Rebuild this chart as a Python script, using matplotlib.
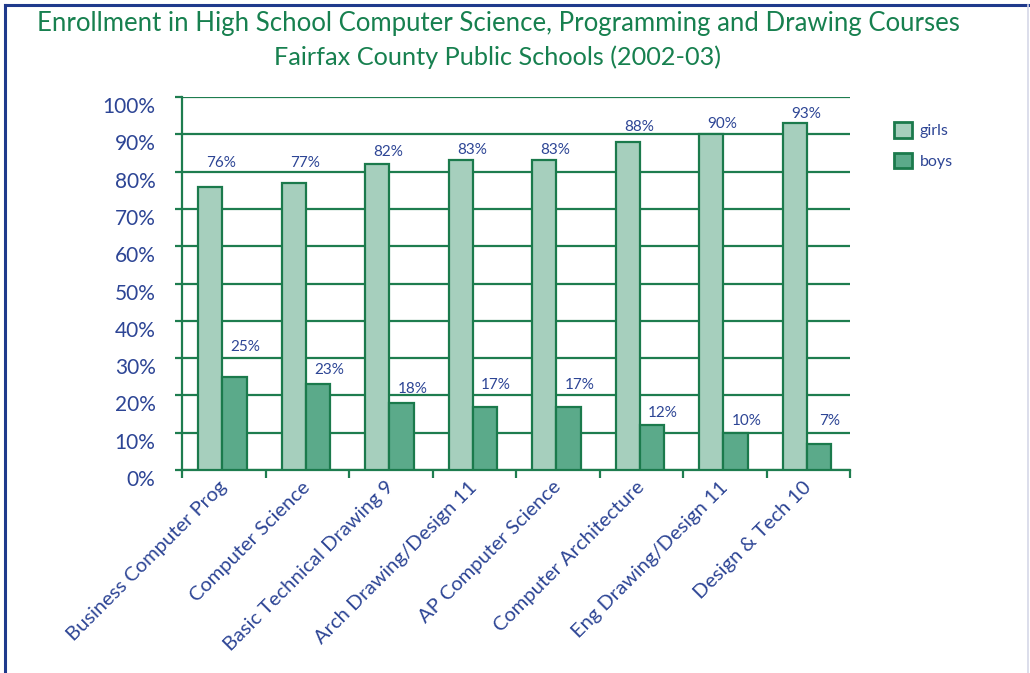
import matplotlib
matplotlib.use("Agg")
import matplotlib.pyplot as plt
from matplotlib.lines import Line2D
from matplotlib.patches import Patch
from matplotlib.transforms import ScaledTranslation
import numpy as np

courses = [
    "Business Computer Prog",
    "Computer Science",
    "Basic Technical Drawing 9",
    "Arch Drawing/Design 11",
    "AP Computer Science",
    "Computer Architecture",
    "Eng Drawing/Design 11",
    "Design & Tech 10",
]
girls = [76, 77, 82, 83, 83, 88, 90, 93]
boys = [25, 23, 18, 17, 17, 12, 10, 7]
y_ticks = [0, 10, 20, 30, 40, 50, 60, 70, 80, 90, 100]

# label lift above each bar (percentage points), keeps text between grid lines
girls_lift = [6.3, 5.3, 3.3, 2.8, 2.8, 4.0, 2.8, 2.4]
boys_lift = [8.0, 3.8, 3.7, 5.8, 5.8, 3.3, 3.1, 6.1]

GRID = "#1e7d4f"
EDGE = "#1b7a4c"
GIRLS_FILL = "#a6cfbd"
BOYS_FILL = "#5baa8a"
TEXT_BLUE = "#2d4595"
TITLE_GREEN = "#17804f"

plt.rcParams["font.family"] = ["Lato", "DejaVu Sans"]

W, H = 1030, 673
fig = plt.figure(figsize=(W / 100, H / 100), dpi=100)
ax = fig.add_axes([182 / W, 1 - 470 / H, (850 - 182) / W, (470 - 97) / H])

x = np.arange(len(courses))
bw = 0.29
xg = x - 0.16
xb = x + 0.13

ax.set_xlim(-0.5, len(courses) - 0.5)
ax.set_ylim(0, 100)

# horizontal grid
for v in y_ticks:
    ax.axhline(v, color=GRID, lw=1.6, zorder=1)

ax.bar(xg, girls, width=bw, color=GIRLS_FILL, edgecolor=EDGE, linewidth=1.6, zorder=3)
ax.bar(xb, boys, width=bw, color=BOYS_FILL, edgecolor=EDGE, linewidth=1.6, zorder=3)

for xi, v, d in zip(xg, girls, girls_lift):
    ax.text(xi + 0.13, v + d, f"{v}%", ha="center", va="center",
            fontsize=11, color=TEXT_BLUE, zorder=4)
for xi, v, d in zip(xb, boys, boys_lift):
    ax.text(xi + 0.13, v + d, f"{v}%", ha="center", va="center",
            fontsize=11, color=TEXT_BLUE, zorder=4)

for s in ("top", "right"):
    ax.spines[s].set_visible(False)
ax.spines["left"].set_color(GRID)
ax.spines["left"].set_linewidth(1.6)
ax.spines["bottom"].set_color(GRID)
ax.spines["bottom"].set_linewidth(1.6)
ax.spines["left"].set_zorder(2)

ax.set_yticks(y_ticks)
ax.set_yticklabels([f"{v}%" for v in y_ticks])
ax.tick_params(axis="y", length=5, width=1.6, color=GRID, pad=14,
               labelsize=15, labelcolor=TEXT_BLUE)
for lab in ax.get_yticklabels():
    lab.set_transform(lab.get_transform() +
                      ScaledTranslation(0, -8 / 100, fig.dpi_scale_trans))

ax.set_xticks(x)
ax.set_xticklabels(courses, rotation=45, ha="right", rotation_mode="anchor")
ax.tick_params(axis="x", which="major", length=0, pad=6,
               labelsize=14.5, labelcolor=TEXT_BLUE)
for lab in ax.get_xticklabels():
    lab.set_transform(lab.get_transform() +
                      ScaledTranslation(-6 / 100, 0, fig.dpi_scale_trans))
ax.set_xticks(np.arange(-0.5, len(courses)), minor=True)
ax.tick_params(axis="x", which="minor", length=6, width=1.6, color=GRID)

leg = ax.legend(
    handles=[Patch(facecolor=GIRLS_FILL, edgecolor=EDGE, linewidth=2.0, label="girls"),
             Patch(facecolor=BOYS_FILL, edgecolor=EDGE, linewidth=2.0, label="boys")],
    loc="upper left", bbox_to_anchor=(880 / W, 1 - 108 / H),
    bbox_transform=fig.transFigure, frameon=False,
    handlelength=1.1, handleheight=1.1, handletextpad=0.5,
    labelspacing=0.9, fontsize=11.5,
)
for t in leg.get_texts():
    t.set_color(TEXT_BLUE)

fig.text(498 / W, 1 - 24 / H,
         "Enrollment in High School Computer Science, Programming and Drawing Courses",
         ha="center", va="center", fontsize=18.5, color=TITLE_GREEN)
fig.text(498 / W, 1 - 57 / H, "Fairfax County Public Schools (2002-03)",
         ha="center", va="center", fontsize=18.2, color=TITLE_GREEN)

# page frame
fig.add_artist(Line2D([5 / W, 5 / W], [0, 1 - 5 / H], transform=fig.transFigure,
                      color="#1f3a8c", lw=2.2))
fig.add_artist(Line2D([5 / W, 1], [1 - 5 / H, 1 - 5 / H], transform=fig.transFigure,
                      color="#1f3a8c", lw=2.2))
fig.add_artist(Line2D([1028 / W, 1028 / W], [0, 1 - 5 / H], transform=fig.transFigure,
                      color="#d6d8e8", lw=1.2))

fig.savefig("out.png", dpi=100, facecolor="white")
